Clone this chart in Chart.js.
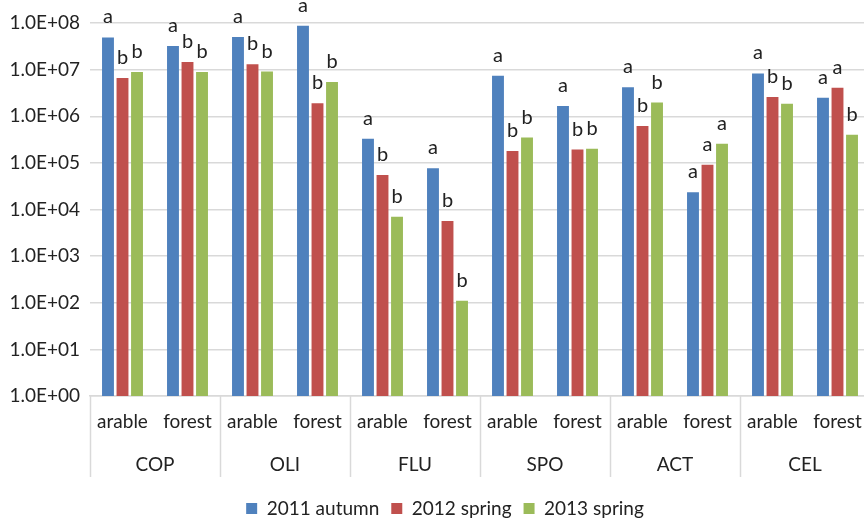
<!DOCTYPE html>
<html>
<head>
<meta charset="utf-8">
<script src="https://cdn.jsdelivr.net/npm/chart.js@4/dist/chart.umd.min.js"></script>
<style>
  html, body { margin: 0; padding: 0; background: #fff; overflow: hidden; }
  #wrap { width: 872px; height: 528px; }
</style>
</head>
<body>
<div id="wrap"><canvas id="c" width="872" height="528"></canvas></div>
<script>
// Soil groups and the two land uses sampled in each
const groups = ['COP', 'OLI', 'FLU', 'SPO', 'ACT', 'CEL'];
const landUse = ['arable', 'forest'];
const categories = groups.flatMap(() => landUse);

// Abundance per sampling campaign (order: COP arable, COP forest, OLI arable, ...)
const autumn2011 = [4.9e7, 3.2e7, 5.0e7, 8.7e7, 3.3e5, 7.7e4, 7.4e6, 1.65e6, 4.2e6, 2.35e4, 8.3e6, 2.5e6];
const spring2012 = [6.6e6, 1.45e7, 1.3e7, 1.9e6, 5.5e4, 5.7e3, 1.8e5, 1.93e5, 6.2e5, 9.1e4, 2.6e6, 4.1e6];
const spring2013 = [8.9e6, 8.9e6, 9.1e6, 5.4e6, 7.0e3, 1.1e2, 3.5e5, 2.0e5, 1.96e6, 2.56e5, 1.85e6, 4.0e5];

// Significance letters above each bar
const letters2011 = ['a', 'a', 'a', 'a', 'a', 'a', 'a', 'a', 'a', 'a', 'a', 'a'];
const letters2012 = ['b', 'b', 'b', 'b', 'b', 'b', 'b', 'b', 'b', 'a', 'b', 'a'];
const letters2013 = ['b', 'b', 'b', 'b', 'b', 'b', 'b', 'b', 'b', 'a', 'b', 'b'];

// Decade ticks of the log axis
const yTickValues = [1, 1e1, 1e2, 1e3, 1e4, 1e5, 1e6, 1e7, 1e8];
const yTickLabels = ['1.0E+00', '1.0E+01', '1.0E+02', '1.0E+03', '1.0E+04', '1.0E+05', '1.0E+06', '1.0E+07', '1.0E+08'];

const FONT = 'Lato, "Open Sans", sans-serif';
const SIZE = 19;
const TEXT = '#222222';
const GRID = '#d9d9d9';

const letterPlugin = {
  id: 'letters',
  afterDatasetsDraw(chart) {
    const ctx = chart.ctx;
    ctx.save();
    ctx.font = (SIZE + 1) + 'px ' + FONT;
    ctx.fillStyle = TEXT;
    ctx.textAlign = 'center';
    ctx.textBaseline = 'alphabetic';
    chart.data.datasets.forEach((ds, i) => {
      const meta = chart.getDatasetMeta(i);
      meta.data.forEach((bar, j) => {
        ctx.fillText(ds.letters[j], bar.x, bar.y - 14);
      });
    });
    ctx.restore();
  }
};

// Second category level: group dividers and group names under the land-use labels
const groupAxisPlugin = {
  id: 'groupAxis',
  afterLayout(chart) {
    // centre the legend under the whole figure including the tick-label column
    if (chart.legend) chart.legend.left += 20;
  },
  afterDraw(chart) {
    const ctx = chart.ctx;
    const x = chart.scales.x;
    const area = chart.chartArea;
    const step = x.getPixelForValue(1) - x.getPixelForValue(0);
    ctx.save();
    ctx.strokeStyle = GRID;
    ctx.lineWidth = 1.5;
    for (let g = 0; g <= groups.length; g++) {
      const px = Math.round(x.getPixelForValue(2 * g) - step / 2) + 0.5;
      ctx.beginPath();
      ctx.moveTo(px, area.bottom);
      ctx.lineTo(px, area.bottom + 81);
      ctx.stroke();
    }
    ctx.font = SIZE + 'px ' + FONT;
    ctx.fillStyle = TEXT;
    ctx.textAlign = 'center';
    ctx.textBaseline = 'middle';
    groups.forEach((name, g) => {
      const cx = (x.getPixelForValue(2 * g) + x.getPixelForValue(2 * g + 1)) / 2;
      ctx.fillText(name, cx, area.bottom + 69);
    });
    ctx.restore();
  }
};

new Chart(document.getElementById('c'), {
  type: 'bar',
  data: {
    labels: categories,
    datasets: [
      { label: '2011 autumn', data: autumn2011, letters: letters2011, backgroundColor: '#4F81BD' },
      { label: '2012 spring', data: spring2012, letters: letters2012, backgroundColor: '#C0504D' },
      { label: '2013 spring', data: spring2013, letters: letters2013, backgroundColor: '#9BBB59' }
    ]
  },
  options: {
    responsive: false,
    animation: false,
    layout: { padding: { top: 23, left: 0, right: 2, bottom: 0 } },
    datasets: { bar: { categoryPercentage: 0.67, barPercentage: 0.82 } },
    scales: {
      x: {
        grid: { display: false },
        border: { display: true, color: GRID, width: 1.5 },
        ticks: { color: TEXT, font: { family: FONT, size: SIZE }, padding: 6, maxRotation: 0, autoSkip: false },
        afterFit(scale) { scale.height = 91; }
      },
      y: {
        type: 'logarithmic',
        min: 1,
        max: 1e8,
        grid: { color: GRID, lineWidth: 1.5, drawTicks: false },
        border: { display: false },
        afterBuildTicks(scale) { scale.ticks = yTickValues.map(v => ({ value: v })); },
        ticks: {
          color: TEXT,
          font: { family: FONT, size: SIZE },
          padding: 10,
          callback(value) {
            const i = yTickValues.indexOf(value);
            return i >= 0 ? yTickLabels[i] : '';
          }
        },
        afterFit(scale) { scale.width = 90; }
      }
    },
    plugins: {
      tooltip: { enabled: false },
      legend: {
        position: 'bottom',
        labels: { color: TEXT, font: { family: FONT, size: SIZE }, boxWidth: 11, boxHeight: 11, padding: 12 }
      }
    }
  },
  plugins: [letterPlugin, groupAxisPlugin]
});
</script>
</body>
</html>
